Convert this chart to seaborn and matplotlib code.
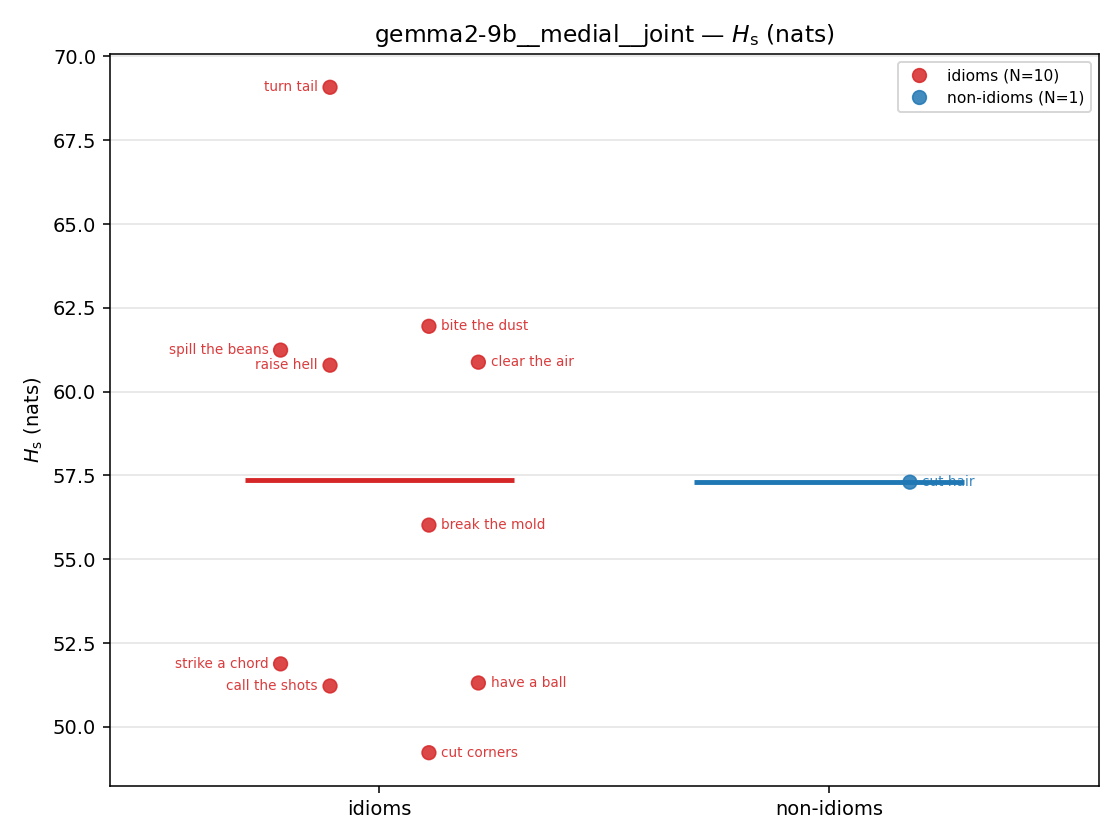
import matplotlib
matplotlib.use("Agg")
import matplotlib.pyplot as plt
import seaborn as sns
import pandas as pd
import numpy as np

groups = ["idioms", "non-idioms"]
idiom_labels = ["turn tail", "bite the dust", "spill the beans", "clear the air", "raise hell",
                "break the mold", "strike a chord", "have a ball", "call the shots", "cut corners"]
idiom_values = [69.08, 61.95, 61.24, 60.88, 60.79, 56.02, 51.88, 51.31, 51.22, 49.23]
idiom_offsets = [-0.11, 0.11, -0.22, 0.22, -0.11, 0.11, -0.22, 0.22, -0.11, 0.11]
nonidiom_labels = ["cut hair"]
nonidiom_values = [57.30]
nonidiom_offsets = [0.18]

colors = {"idioms": "#d62728", "non-idioms": "#1f77b4"}

rows = []
for lab, v, o in zip(idiom_labels, idiom_values, idiom_offsets):
    rows.append(dict(group="idioms", label=lab, value=v, off=o))
for lab, v, o in zip(nonidiom_labels, nonidiom_values, nonidiom_offsets):
    rows.append(dict(group="non-idioms", label=lab, value=v, off=o))
df = pd.DataFrame(rows)
df["gi"] = df["group"].map({g: i for i, g in enumerate(groups)})
df["x"] = df["gi"] + df["off"]
counts = df["group"].value_counts()
df["legend"] = df["group"].map(lambda g: f"{g} (N={counts[g]})")

fig, ax = plt.subplots(figsize=(8, 6), dpi=140)
fig.subplots_adjust(left=0.098, right=0.981, top=0.9357, bottom=0.0643)

ax.yaxis.grid(True, color="#dddddd", linewidth=0.8, alpha=0.8)
ax.set_axisbelow(True)

palette = {f"{g} (N={counts[g]})": colors[g] for g in groups}
sns.scatterplot(data=df, x="x", y="value", hue="legend", palette=palette, ax=ax,
                s=50, alpha=0.85, edgecolor=None, linewidth=0.8, zorder=3)
for coll in ax.collections:
    coll.set_edgecolor(coll.get_facecolor())

for _, r in df.iterrows():
    c = colors[r["group"]]
    if r["off"] < 0:
        ax.text(r["x"] - 0.027, r["value"], r["label"], ha="right", va="center",
                fontsize=7, color=c, alpha=0.9, zorder=2)
    else:
        ax.text(r["x"] + 0.027, r["value"], r["label"], ha="left", va="center",
                fontsize=7, color=c, alpha=0.9, zorder=2)

for i, g in enumerate(groups):
    m = df.loc[df["group"] == g, "value"].mean()
    ax.hlines(m, i - 0.3, i + 0.3, color=colors[g], linewidth=2.5, zorder=2.5)

ax.set_xlim(-0.6, 1.6)
ax.set_xticks([0, 1])
ax.set_xticklabels(groups)
ax.set_xlabel("")
ax.set_ylabel(r"$H_\mathrm{s}$ (nats)", fontsize=10)
ax.set_title(r"gemma2-9b__medial__joint — $H_\mathrm{s}$ (nats)", fontsize=12)
ax.tick_params(axis="both", labelsize=10)

leg = ax.legend(loc="upper right", fontsize=8, frameon=True)
leg.set_title(None)

fig.savefig("out.png", dpi=140)
